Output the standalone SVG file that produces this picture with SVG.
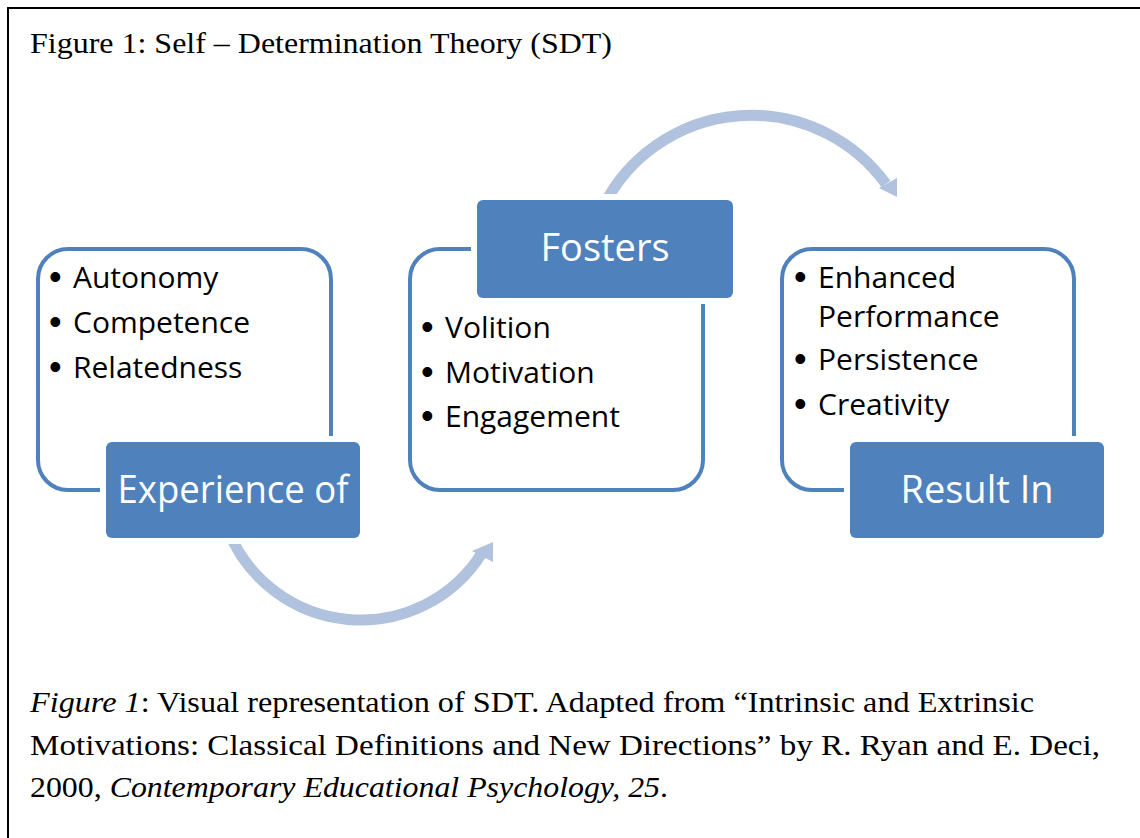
<svg xmlns="http://www.w3.org/2000/svg" width="1140" height="838" viewBox="0 0 1140 838">
  <style>
    .frame { fill: #ffffff; stroke: #000000; stroke-width: 2; }
    .serif { font-family: "Liberation Serif", "Times New Roman", serif; font-size: 29px; fill: #000000; }
    .outline { fill: none; stroke: #4f81bd; stroke-width: 4; }
    .header { fill: #4f81bd; stroke: #ffffff; stroke-width: 12; paint-order: stroke; }
    .htext { font-family: "Open Sans", "Liberation Sans", sans-serif; font-size: 38px; fill: #ffffff; text-anchor: middle; }
    .item { font-family: "Open Sans", "Liberation Sans", sans-serif; font-size: 30px; fill: #000000; }
    .dot { font-family: "Liberation Sans", sans-serif; font-size: 36px; }
    .arc { fill: none; stroke: #b0c2de; stroke-width: 11; }
    .head { fill: #b0c2de; }
  </style>

  <rect class="frame" x="8" y="8" width="1150" height="850"/>

  <text class="serif" x="30" y="53" textLength="582" lengthAdjust="spacingAndGlyphs">Figure 1: Self – Determination Theory (SDT)</text>

  <!-- curved flow arrows -->
  <g id="connectors">
    <path class="arc" d="M 228 530 A 143 143 0 0 0 482 553"/>
    <polygon class="head" points="493,542 472,551 493,562"/>
    <path class="arc" d="M 604 205 A 166 166 0 0 1 886 184"/>
    <polygon class="head" points="897,178 879,188 897,197"/>
  </g>

  <g id="node-experience">
    <rect class="outline" x="38" y="249" width="293" height="241" rx="30"/>
    <rect class="header" x="106" y="442" width="254" height="96" rx="6"/>
    <text class="htext" x="233" y="503" textLength="231" lengthAdjust="spacingAndGlyphs">Experience of</text>
    <text class="item"><tspan class="dot" x="49" y="289">•</tspan><tspan x="73" y="288">Autonomy</tspan></text>
    <text class="item"><tspan class="dot" x="49" y="334">•</tspan><tspan x="73" y="333">Competence</tspan></text>
    <text class="item"><tspan class="dot" x="49" y="379">•</tspan><tspan x="73" y="378">Relatedness</tspan></text>
  </g>

  <g id="node-fosters">
    <rect class="outline" x="410" y="249" width="293" height="241" rx="30"/>
    <rect class="header" x="477" y="200" width="256" height="98" rx="6"/>
    <text class="htext" x="605" y="261">Fosters</text>
    <text class="item"><tspan class="dot" x="421" y="339">•</tspan><tspan x="445" y="338">Volition</tspan></text>
    <text class="item"><tspan class="dot" x="421" y="384">•</tspan><tspan x="445" y="383">Motivation</tspan></text>
    <text class="item"><tspan class="dot" x="421" y="428">•</tspan><tspan x="445" y="427">Engagement</tspan></text>
  </g>

  <g id="node-result">
    <rect class="outline" x="782" y="249" width="292" height="241" rx="30"/>
    <rect class="header" x="850" y="442" width="254" height="96" rx="6"/>
    <text class="htext" x="977" y="503">Result In</text>
    <text class="item"><tspan class="dot" x="794" y="289">•</tspan><tspan x="818" y="288">Enhanced</tspan></text>
    <text class="item"><tspan x="818" y="327">Performance</tspan></text>
    <text class="item"><tspan class="dot" x="794" y="371">•</tspan><tspan x="818" y="370">Persistence</tspan></text>
    <text class="item"><tspan class="dot" x="794" y="416">•</tspan><tspan x="818" y="415">Creativity</tspan></text>
  </g>

  <g id="caption" class="serif">
    <text x="30" y="712" textLength="1004" lengthAdjust="spacingAndGlyphs"><tspan font-style="italic">Figure 1</tspan>: Visual representation of SDT. Adapted from “Intrinsic and Extrinsic</text>
    <text x="30" y="755" textLength="1070" lengthAdjust="spacingAndGlyphs">Motivations: Classical Definitions and New Directions” by R. Ryan and E. Deci,</text>
    <text x="30" y="797" textLength="638" lengthAdjust="spacingAndGlyphs">2000, <tspan font-style="italic">Contemporary Educational Psychology, 25</tspan>.</text>
  </g>
</svg>
